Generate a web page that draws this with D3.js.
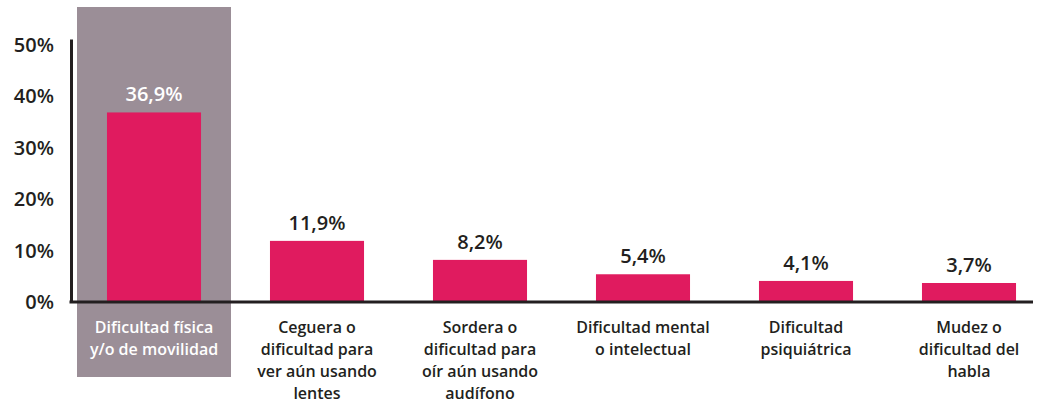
<!DOCTYPE html>
<html>
<head>
<meta charset="utf-8">
<script src="https://cdn.jsdelivr.net/npm/d3@7"></script>
<style>
  body { margin: 0; background: #fff; }
  svg { display: block; font-family: "Open Sans", sans-serif; }
</style>
</head>
<body>
<svg id="chart"></svg>
<script>
const categories = [
	'Dificultad física\ny/o de movilidad',
	'Ceguera o\ndificultad para\nver aún usando\nlentes',
	'Sordera o\ndificultad para\noír aún usando\naudífono',
	'Dificultad mental\no intelectual',
	'Dificultad\npsiquiátrica',
	'Mudez o\ndificultad del\nhabla',
];
const values = [36.9, 11.9, 8.2, 5.4, 4.1, 3.7];
const yTicks = [0, 10, 20, 30, 40, 50];
const highlighted = categories[0];

const width = 1037;
const height = 404;
const axisLeftX = 71;
const baseline = 302;

const svg = d3.select('#chart').attr('width', width).attr('height', height);

const x = d3
	.scaleBand()
	.domain(categories)
	.range([72.5, 1050.5])
	.paddingInner(0.423)
	.paddingOuter(0.2115);

const y = d3.scaleLinear().domain([0, 51.2]).range([baseline, 39]);

const fmt = (v) => d3.format('.1f')(v).replace('.', ',') + '%';

// highlight box behind the first category
svg
	.append('rect')
	.attr('x', x(highlighted) + x.bandwidth() / 2 - 77)
	.attr('y', 7)
	.attr('width', 154)
	.attr('height', 370)
	.attr('fill', '#9b8e97');

// bars
svg
	.append('g')
	.selectAll()
	.data(values)
	.join('rect')
	.attr('fill', '#e01b5f')
	.attr('x', (d, i) => x(categories[i]))
	.attr('y', (d) => y(d))
	.attr('width', x.bandwidth())
	.attr('height', (d) => y(0) - y(d));

// value labels
svg
	.append('g')
	.attr('font-size', 20)
	.attr('font-weight', 600)
	.attr('text-anchor', 'middle')
	.selectAll()
	.data(values)
	.join('text')
	.attr('fill', (d, i) => (categories[i] === highlighted ? '#fff' : '#231f20'))
	.attr('x', (d, i) => x(categories[i]) + x.bandwidth() / 2)
	.attr('y', (d) => y(d) - 11)
	.text(fmt);

// y axis
svg
	.append('g')
	.attr('transform', `translate(${axisLeftX},0)`)
	.call(
		d3
			.axisLeft(y)
			.tickValues(yTicks)
			.tickSize(0)
			.tickSizeOuter(0)
			.tickPadding(17)
			.tickFormat((d) => d + '%')
	)
	.call((g) => g.select('.domain').attr('stroke', '#231f20').attr('stroke-width', 3))
	.call((g) =>
		g
			.selectAll('.tick text')
			.attr('font-size', 20)
			.attr('font-weight', 600)
			.attr('fill', '#231f20')
			.attr('font-family', '"Open Sans", sans-serif')
	);

// x axis
const xAxis = svg
	.append('g')
	.attr('transform', `translate(0,${baseline})`)
	.call(d3.axisBottom(x).tickSize(0).tickFormat(''));
xAxis
	.select('.domain')
	.attr('d', `M${axisLeftX - 1.5},0H${width - 4}`)
	.attr('stroke', '#231f20')
	.attr('stroke-width', 3);

// category labels, one tspan per line
xAxis
	.selectAll('.tick text')
	.attr('font-family', '"Open Sans", sans-serif')
	.attr('font-size', 16)
	.attr('font-weight', 600)
	.attr('fill', (d) => (d === highlighted ? '#fff' : '#231f20'))
	.attr('y', 31)
	.attr('dy', 0)
	.each(function (d) {
		const t = d3.select(this);
		d.split('\n').forEach((line, i) => {
			t.append('tspan').attr('x', 0).attr('dy', i ? 22 : 0).text(line);
		});
	});
</script>
</body>
</html>
